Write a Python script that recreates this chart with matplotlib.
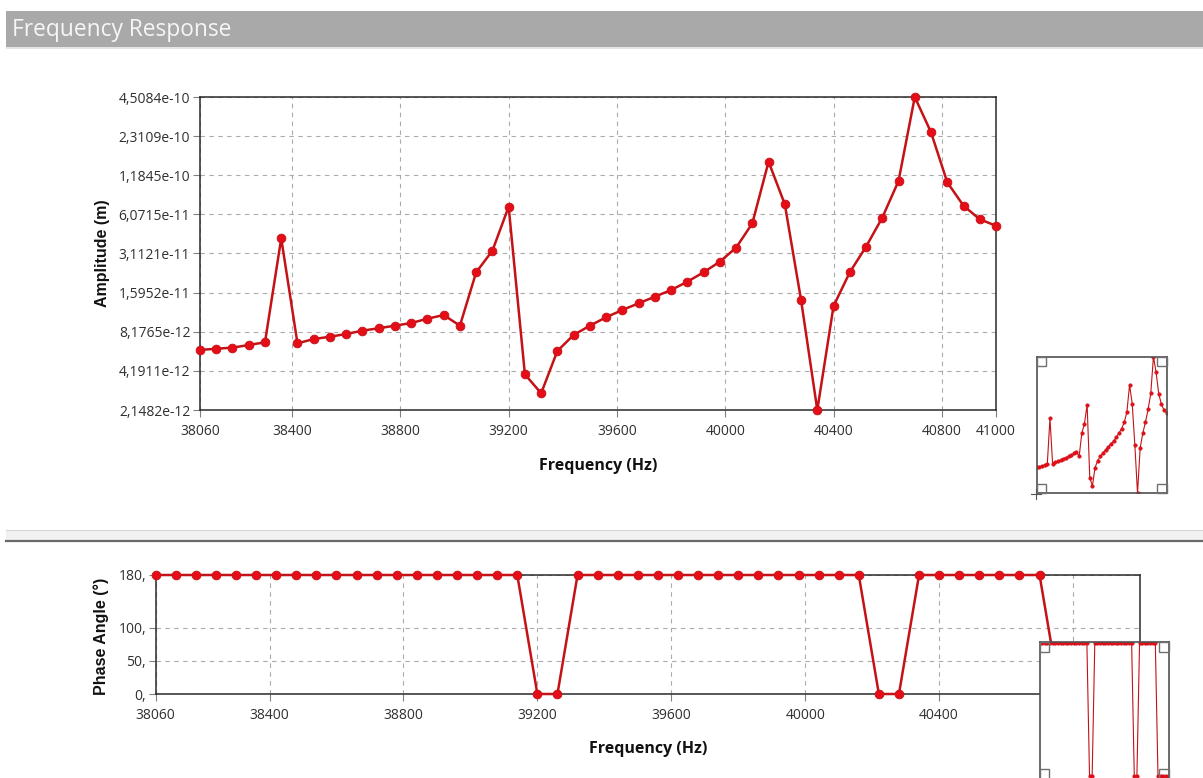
import matplotlib
matplotlib.use("Agg")
import matplotlib.pyplot as plt
from matplotlib.patches import Rectangle
from matplotlib.lines import Line2D
import numpy as np

plt.rcParams['font.family'] = ['Open Sans', 'DejaVu Sans']

# ---------------- data ----------------
freq_hz = [38060, 38120, 38180, 38240, 38300, 38360, 38420, 38480, 38540, 38600,
           38660, 38720, 38780, 38840, 38900, 38960, 39020, 39080, 39140, 39200,
           39260, 39320, 39380, 39440, 39500, 39560, 39620, 39680, 39740, 39800,
           39860, 39920, 39980, 40040, 40100, 40160, 40220, 40280, 40340, 40400,
           40460, 40520, 40580, 40640, 40700, 40760, 40820, 40880, 40940, 41000]

amplitude_m = [5.99e-12, 6.12e-12, 6.23e-12, 6.52e-12, 6.83e-12, 4.03e-11, 6.71e-12, 7.22e-12, 7.51e-12, 7.87e-12,
               8.33e-12, 8.68e-12, 9.07e-12, 9.49e-12, 1.022e-11, 1.088e-11, 9.07e-12, 2.258e-11, 3.265e-11, 6.92e-11,
               3.95e-12, 2.86e-12, 5.89e-12, 7.74e-12, 9.07e-12, 1.047e-11, 1.186e-11, 1.329e-11, 1.488e-11, 1.668e-11,
               1.922e-11, 2.258e-11, 2.705e-11, 3.437e-11, 5.21e-11, 1.493e-10, 7.21e-11, 1.406e-11, 2.1482e-12, 1.269e-11,
               2.258e-11, 3.496e-11, 5.74e-11, 1.074e-10, 4.5084e-10, 2.466e-10, 1.050e-10, 7.04e-11, 5.58e-11, 5.00e-11]

phase_deg = [180, 180, 180, 180, 180, 180, 180, 180, 180, 180,
             180, 180, 180, 180, 180, 180, 180, 180, 180, 0,
             0, 180, 180, 180, 180, 180, 180, 180, 180, 180,
             180, 180, 180, 180, 180, 180, 0, 0, 180, 180,
             180, 180, 180, 180, 180, 0, 0, 0, 0, 0]

amp_tick_labels = ["2,1482e-12", "4,1911e-12", "8,1765e-12", "1,5952e-11", "3,1121e-11",
                   "6,0715e-11", "1,1845e-10", "2,3109e-10", "4,5084e-10"]
freq_ticks = [38060, 38400, 38800, 39200, 39600, 40000, 40400, 40800, 41000]
phase_ticks = [0, 50, 100, 180]
phase_tick_labels = ["0,", "50,", "100,", "180,"]

# ---------------- styling ----------------
W, H = 1203, 778
LINE_C = '#c41216'
MARK_C = '#e50d17'
GRID_C = '#ababab'
TICK_C = '#808080'
YLAB_FONT = ['Liberation Sans', 'DejaVu Sans']


def rect(x0, y0, x1, y1):
    return [x0 / W, 1 - y1 / H, (x1 - x0) / W, (y1 - y0) / H]


fig = plt.figure(figsize=(W / 100, H / 100), dpi=100)
fig.patch.set_facecolor('white')

# title bar
fig.patches.append(Rectangle((6 / W, 1 - 47 / H), 1, 36 / H, transform=fig.transFigure,
                             facecolor='#a9a9a9', edgecolor='none', zorder=0))
fig.patches.append(Rectangle((6 / W, 1 - 49 / H), 1, 2 / H, transform=fig.transFigure,
                             facecolor='#e4e4e4', edgecolor='none', zorder=0))
fig.text(12 / W, 1 - 36 / H, 'Frequency Response', color='#f6f6f6', fontsize=16.4,
         ha='left', va='baseline')

# separator
fig.patches.append(Rectangle((6 / W, 1 - 540 / H), 1, 10 / H, transform=fig.transFigure,
                             facecolor='#f1f1f1', edgecolor='none', zorder=0))
fig.lines.append(Line2D([6 / W, 1], [1 - 530 / H] * 2, transform=fig.transFigure, color='#d6d6d6', lw=0.8))
fig.lines.append(Line2D([6 / W, 1], [1 - 540.5 / H] * 2, transform=fig.transFigure, color='#6a6a6a', lw=1.6))


def style_axes(ax):
    for s in ax.spines.values():
        s.set_color('#2a2a2a')
        s.set_linewidth(1.1)
    ax.grid(True, color=GRID_C, linestyle=(0, (4, 4)), linewidth=0.8)
    ax.set_axisbelow(True)
    ax.tick_params(axis='both', direction='out', length=5, width=0.8, color=TICK_C,
                   labelsize=10, labelcolor='#303030')
    ax.tick_params(axis='x', pad=5)
    ax.tick_params(axis='y', pad=2)


# ---------------- amplitude plot ----------------
ax1 = fig.add_axes(rect(200, 97, 996, 410))
ax1.set_yscale('log')
ax1.plot(freq_hz, amplitude_m, color=LINE_C, lw=1.8, marker='o', ms=6.3,
         markerfacecolor=MARK_C, markeredgecolor=LINE_C, markeredgewidth=0.6, clip_on=False, zorder=3)
ax1.set_xlim(freq_hz[0], freq_hz[-1])
ax1.set_ylim(2.1482e-12, 4.5084e-10)
amp_tick_vals = [float(s.replace(',', '.')) for s in amp_tick_labels]
ax1.set_yticks(amp_tick_vals, labels=amp_tick_labels)
ax1.minorticks_off()
ax1.set_xticks(freq_ticks)
style_axes(ax1)

fig.text(103 / W, 1 - 253 / H, 'Amplitude (m)', rotation=90, ha='center', va='center',
         fontsize=11.5, fontweight='bold', color='#111111', family=YLAB_FONT)
fig.text(598 / W, 1 - 466 / H, 'Frequency (Hz)', ha='center', va='center',
         fontsize=11.5, fontweight='bold', color='#111111')

# ---------------- phase plot ----------------
ax2 = fig.add_axes(rect(155.7, 575, 1140, 694))
ax2.plot(freq_hz, phase_deg, color=LINE_C, lw=1.8, marker='o', ms=6.3,
         markerfacecolor=MARK_C, markeredgecolor=LINE_C, markeredgewidth=0.6, clip_on=False, zorder=3)
ax2.set_xlim(freq_hz[0], freq_hz[-1])
ax2.set_ylim(0, 180)
ax2.set_yticks(phase_ticks, labels=phase_tick_labels)
ax2.set_xticks(freq_ticks)
style_axes(ax2)

fig.text(101 / W, 1 - 636 / H, 'Phase Angle (°)', rotation=90, ha='center', va='center',
         fontsize=11.5, fontweight='bold', color='#111111', family=YLAB_FONT)
fig.text(648 / W, 1 - 749 / H, 'Frequency (Hz)', ha='center', va='center',
         fontsize=11.5, fontweight='bold', color='#111111')


# ---------------- overview insets ----------------
def corner_boxes(ax):
    s = 0.075
    for (x, y) in [(0, 0), (1 - s, 0), (0, 1 - s * 0.95), (1 - s, 1 - s * 0.95)]:
        ax.add_patch(Rectangle((x, y), s, s * 0.95, transform=ax.transAxes, fill=False,
                               edgecolor='#707070', lw=1.0, zorder=5, clip_on=False))


ins1 = fig.add_axes(rect(1036.7, 356.7, 1166.7, 493.3))
ins1.set_facecolor('white')
ins1.set_yscale('log')
ins1.plot(freq_hz, amplitude_m, color=LINE_C, lw=0.8, marker='o', ms=2.6,
          markerfacecolor=MARK_C, markeredgecolor=LINE_C, markeredgewidth=0.3)
ins1.set_xlim(freq_hz[0], freq_hz[-1])
ins1.set_ylim(2.1482e-12, 4.5084e-10)
ins1.set_xticks([])
ins1.set_yticks([])
ins1.minorticks_off()
for s in ins1.spines.values():
    s.set_color('#505050')
    s.set_linewidth(1.2)
corner_boxes(ins1)
fig.lines.append(Line2D([1031 / W, 1041 / W], [1 - 494 / H] * 2, transform=fig.transFigure, color='#555555', lw=0.8))
fig.lines.append(Line2D([1036 / W] * 2, [1 - 489 / H, 1 - 499 / H], transform=fig.transFigure, color='#555555', lw=0.8))

ins2 = fig.add_axes(rect(1039.5, 642, 1168.5, 779))
ins2.set_facecolor('white')
ins2.plot(freq_hz, phase_deg, color=LINE_C, lw=0.8, marker='o', ms=2.6,
          markerfacecolor=MARK_C, markeredgecolor=LINE_C, markeredgewidth=0.3)
ins2.set_xlim(freq_hz[0], freq_hz[-1])
ins2.set_ylim(-4, 182)
ins2.set_xticks([])
ins2.set_yticks([])
for s in ins2.spines.values():
    s.set_color('#505050')
    s.set_linewidth(1.2)
corner_boxes(ins2)

fig.savefig('out.png', dpi=100)
